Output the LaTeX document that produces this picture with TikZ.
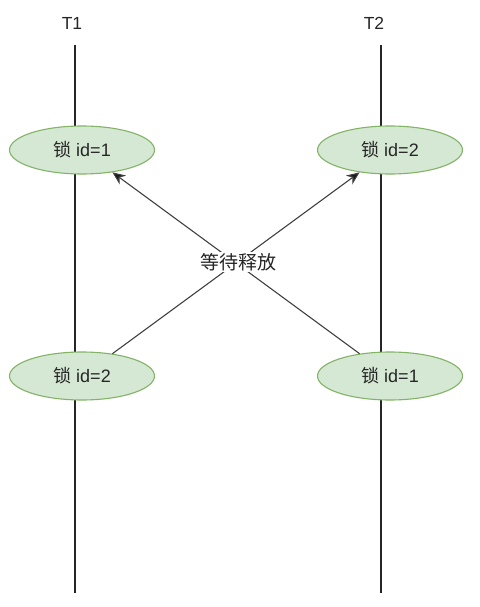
\documentclass[tikz,border=0pt]{standalone}
\usepackage{fontspec}
\setmainfont{Liberation Sans}
\newfontfamily\cjk{Noto Sans CJK SC}
\usetikzlibrary{shapes.geometric,arrows.meta}
\definecolor{lockfill}{HTML}{D5E8D4}
\definecolor{lockedge}{HTML}{82B366}
\begin{document}
\begin{tikzpicture}[x=1pt,y=-1pt,
  lockbox/.style={ellipse,draw=lockedge,fill=lockfill,
    line width=1.1pt,minimum width=145pt,minimum height=48pt,inner sep=0pt,
    font=\fontsize{18}{21}\selectfont,text=black!85},
  lifeline/.style={line width=1.2pt,black!85},
  waitline/.style={line width=1.1pt,black!75,-{Stealth[length=13pt,width=11pt,fill=black!90]}},
  title/.style={font=\fontsize{17.5}{20}\selectfont,inner sep=0pt,text=black!85}]
  \useasboundingbox (0,0) rectangle (479,607);
  % thread titles
  \node[title] (T1) at (72,23) {T1};
  \node[title] (T2) at (374,23) {T2};
  % thread lifelines
  \coordinate (t1top) at (75,45);
  \coordinate (t1bot) at (75,593);
  \coordinate (t2top) at (381,45);
  \coordinate (t2bot) at (381,593);
  \draw[lifeline] (t1top) -- (t1bot);
  \draw[lifeline] (t2top) -- (t2bot);
  % locks held and requested
  \node[lockbox] (a1) at (82,150) {{\cjk 锁} id=1};
  \node[lockbox] (a2) at (390,150) {{\cjk 锁} id=2};
  \node[lockbox] (b1) at (82,376) {{\cjk 锁} id=2};
  \node[lockbox] (b2) at (390,376) {{\cjk 锁} id=1};
  % waiting edges
  \draw[waitline] (b1) -- (a2);
  \draw[waitline] (b2) -- (a1);
  \node[fill=white,inner sep=1.5pt,text=black!85,font=\cjk\fontsize{19}{22}\selectfont] (wait) at (238,262) {等待释放};
\end{tikzpicture}
\end{document}
